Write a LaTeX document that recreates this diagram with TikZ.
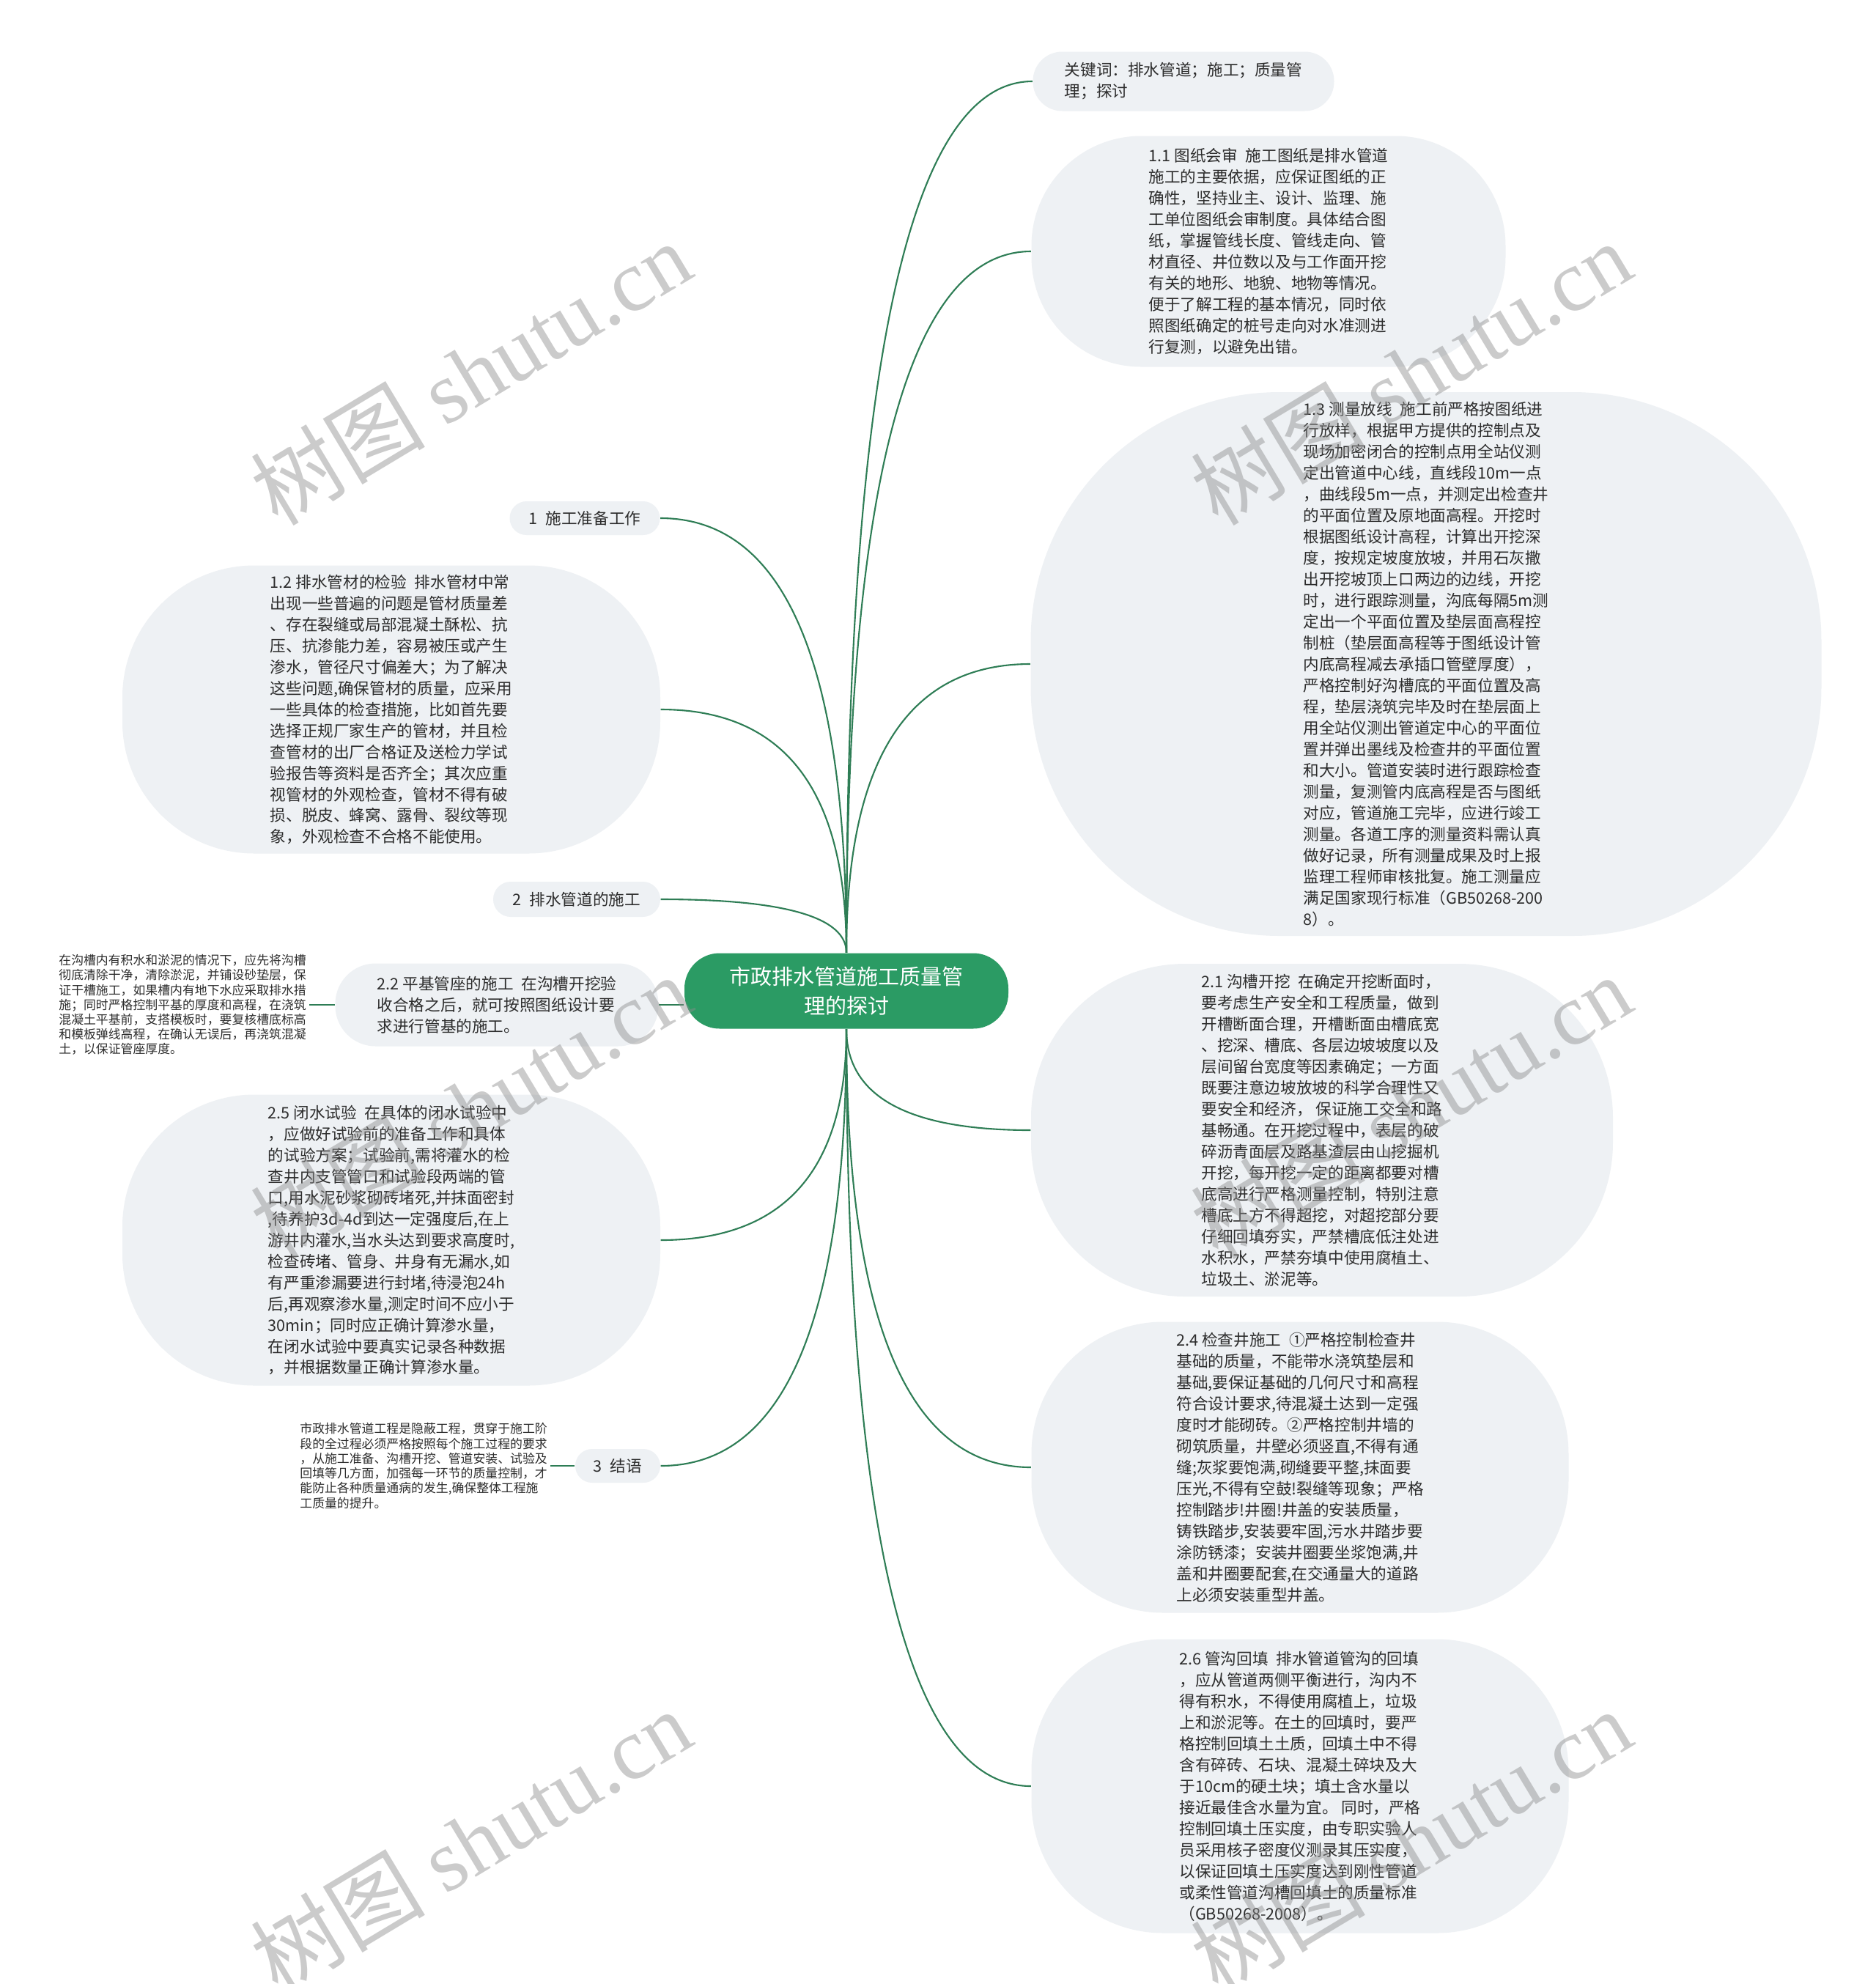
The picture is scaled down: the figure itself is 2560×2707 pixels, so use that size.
\documentclass[tikz,border=0pt]{standalone}
\usepackage{fontspec}
\setmainfont{Noto Sans CJK SC}
\newfontfamily\wmserif{Liberation Serif}
\usetikzlibrary{calc}

\definecolor{linkgreen}{RGB}{46,125,85}
\definecolor{topicgreen}{RGB}{43,155,100}
\definecolor{bubblegray}{RGB}{238,241,244}
\definecolor{textgray}{RGB}{45,45,45}

\newcommand{\gap}{\hspace{0.5em}}

\begin{document}
\begin{tikzpicture}[x=0.1mm,y=-0.1mm,
    topic/.style={fill=topicgreen,text=white,align=center,inner sep=0pt,
      minimum width=44.2mm,minimum height=10.3mm,rounded corners=4.8mm,
      font=\fontsize{8.25}{11.4}\selectfont},
    bubble/.style n args={3}{fill=bubblegray,text=textgray,align=left,
      inner sep=0pt,minimum width=#1,minimum height=#2,rounded corners=#3,
      font=\fontsize{6.15}{8.25}\selectfont},
    detail/.style={text=textgray,align=left,inner sep=1pt,
      font=\fontsize{4.8}{5.75}\selectfont},
    link/.style={draw=linkgreen,line width=0.6pt},
    mmcurve/.style={to path={.. controls
      ($(\tikztostart)!0.667!(\tikztostart|-\tikztotarget)$) and
      ($(\tikztotarget)!0.667!(\tikztostart|-\tikztotarget)$) .. (\tikztotarget)}},
    wmark/.style={rotate=31,text=black!45,opacity=0.45,inner sep=0pt,
      font=\fontsize{34}{34}\selectfont}]

  % page
  \useasboundingbox (0,0) rectangle (2560,2707);
  \fill[white] (0,0) rectangle (2560,2707);

  % central topic
  \node[topic] (root) at (1155,1352) {市政排水管道施工质量管\\理的探讨};

  % right side
  \node[bubble={41.1mm}{8.1mm}{4mm}] (kw) at (1615,111)
    {关键词：排水管道；施工；质量管\\理；探讨};
  \node[bubble={64.7mm}{31.5mm}{15mm}] (n11) at (1731,343)
    {1.1 图纸会审\gap 施工图纸是排水管道\\
     施工的主要依据，应保证图纸的正\\
     确性，坚持业主、设计、监理、施\\
     工单位图纸会审制度。具体结合图\\
     纸，掌握管线长度、管线走向、管\\
     材直径、井位数以及与工作面开挖\\
     有关的地形、地貌、地物等情况。\\
     便于了解工程的基本情况，同时依\\
     照图纸确定的桩号走向对水准测进\\
     行复测，以避免出错。};
  \node[bubble={107.9mm}{74.2mm}{34mm}] (n13) at (1946,906)
    {1.3 测量放线\gap 施工前严格按图纸进\\
     行放样，根据甲方提供的控制点及\\
     现场加密闭合的控制点用全站仪测\\
     定出管道中心线，直线段10m一点\\
     ，曲线段5m一点，并测定出检查井\\
     的平面位置及原地面高程。开挖时\\
     根据图纸设计高程，计算出开挖深\\
     度，按规定坡度放坡，并用石灰撒\\
     出开挖坡顶上口两边的边线，开挖\\
     时，进行跟踪测量，沟底每隔5m测\\
     定出一个平面位置及垫层面高程控\\
     制桩（垫层面高程等于图纸设计管\\
     内底高程减去承插口管壁厚度），\\
     严格控制好沟槽底的平面位置及高\\
     程，垫层浇筑完毕及时在垫层面上\\
     用全站仪测出管道定中心的平面位\\
     置并弹出墨线及检查井的平面位置\\
     和大小。管道安装时进行跟踪检查\\
     测量，复测管内底高程是否与图纸\\
     对应，管道施工完毕，应进行竣工\\
     测量。各道工序的测量资料需认真\\
     做好记录，所有测量成果及时上报\\
     监理工程师审核批复。施工测量应\\
     满足国家现行标准（GB50268-200\\
     8）。};
  \node[bubble={79.4mm}{45.4mm}{21mm}] (n21) at (1804,1542)
    {2.1 沟槽开挖\gap 在确定开挖断面时，\\
     要考虑生产安全和工程质量，做到\\
     开槽断面合理，开槽断面由槽底宽\\
     、挖深、槽底、各层边坡坡度以及\\
     层间留台宽度等因素确定；一方面\\
     既要注意边坡放坡的科学合理性又\\
     要安全和经济， 保证施工交全和路\\
     基畅通。在开挖过程中，表层的破\\
     碎沥青面层及路基渣层由山挖掘机\\
     开挖，每开挖一定的距离都要对槽\\
     底高进行严格测量控制，特别注意\\
     槽底上方不得超挖，对超挖部分要\\
     仔细回填夯实，严禁槽底低注处进\\
     水积水，严禁夯填中使用腐植土、\\
     垃圾土、淤泥等。};
  \node[bubble={73.3mm}{39.7mm}{18mm}] (n24) at (1774,2002)
    {2.4 检查井施工\gap ①严格控制检查井\\
     基础的质量，不能带水浇筑垫层和\\
     基础,要保证基础的几何尺寸和高程\\
     符合设计要求,待混凝土达到一定强\\
     度时才能砌砖。②严格控制井墙的\\
     砌筑质量，井壁必须竖直,不得有通\\
     缝;灰浆要饱满,砌缝要平整,抹面要\\
     压光,不得有空鼓!裂缝等现象；严格\\
     控制踏步!井圈!井盖的安装质量，\\
     铸铁踏步,安装要牢固,污水井踏步要\\
     涂防锈漆；安装井圈要坐浆饱满,井\\
     盖和井圈要配套,在交通量大的道路\\
     上必须安装重型井盖。};
  \node[bubble={73.3mm}{40.1mm}{18mm}] (n26) at (1774,2437)
    {2.6 管沟回填\gap 排水管道管沟的回填\\
     ，应从管道两侧平衡进行，沟内不\\
     得有积水，不得使用腐植上，垃圾\\
     上和淤泥等。在土的回填时，要严\\
     格控制回填土土质，回填土中不得\\
     含有碎砖、石块、混凝土碎块及大\\
     于10cm的硬土块；填土含水量以\\
     接近最佳含水量为宜。 同时，严格\\
     控制回填土压实度，由专职实验人\\
     员采用核子密度仪测录其压实度，\\
     以保证回填土压实度达到刚性管道\\
     或柔性管道沟槽回填土的质量标准\\
     （GB50268-2008）。};

  % left side
  \node[bubble={20.5mm}{4.6mm}{2.3mm}] (b1) at (798,707) {1\gap 施工准备工作};
  \node[bubble={73.4mm}{39.3mm}{18mm}] (n12) at (534,968)
    {1.2 排水管材的检验\gap 排水管材中常\\
     出现一些普遍的问题是管材质量差\\
     、存在裂缝或局部混凝土酥松、抗\\
     压、抗渗能力差，容易被压或产生\\
     渗水，管径尺寸偏差大；为了解决\\
     这些问题,确保管材的质量，应采用\\
     一些具体的检查措施，比如首先要\\
     选择正规厂家生产的管材，并且检\\
     查管材的出厂合格证及送检力学试\\
     验报告等资料是否齐全；其次应重\\
     视管材的外观检查，管材不得有破\\
     损、脱皮、蜂窝、露骨、裂纹等现\\
     象，外观检查不合格不能使用。};
  \node[bubble={22.8mm}{4.8mm}{2.4mm}] (b2) at (787,1227) {2\gap 排水管道的施工};
  \node[bubble={44.1mm}{11.3mm}{5.5mm}] (n22) at (678,1371)
    {2.2 平基管座的施工\gap 在沟槽开挖验\\
     收合格之后，就可按照图纸设计要\\
     求进行管基的施工。};
  \node[detail,anchor=east] (d22) at (422,1371)
    {在沟槽内有积水和淤泥的情况下，应先将沟槽\\
     彻底清除干净，清除淤泥，并铺设砂垫层，保\\
     证干槽施工，如果槽内有地下水应采取排水措\\
     施；同时严格控制平基的厚度和高程，在浇筑\\
     混凝土平基前，支搭模板时，要复核槽底标高\\
     和模板弹线高程，在确认无误后，再浇筑混凝\\
     土，以保证管座厚度。};
  \node[bubble={73.4mm}{39.7mm}{18mm}] (n25) at (534,1692)
    {2.5 闭水试验\gap 在具体的闭水试验中\\
     ，应做好试验前的准备工作和具体\\
     的试验方案；试验前,需将灌水的检\\
     查井内支管管口和试验段两端的管\\
     口,用水泥砂浆砌砖堵死,并抹面密封\\
     ,待养护3d-4d到达一定强度后,在上\\
     游井内灌水,当水头达到要求高度时,\\
     检查砖堵、管身、井身有无漏水,如\\
     有严重渗漏要进行封堵,待浸泡24h\\
     后,再观察渗水量,测定时间不应小于\\
     30min；同时应正确计算渗水量，\\
     在闭水试验中要真实记录各种数据\\
     ，并根据数量正确计算渗水量。};
  \node[bubble={11.6mm}{4.6mm}{2.3mm}] (b3) at (843,2000) {3\gap 结语};
  \node[detail,anchor=east] (d3) at (751,2000)
    {市政排水管道工程是隐蔽工程，贯穿于施工阶\\
     段的全过程必须严格按照每个施工过程的要求\\
     ，从施工准备、沟槽开挖、管道安装、试验及\\
     回填等几方面，加强每一环节的质量控制，才\\
     能防止各种质量通病的发生,确保整体工程施\\
     工质量的提升。};

  % links to the right
  \draw[link] (root.north) to[mmcurve] (kw.west);
  \draw[link] (root.north) to[mmcurve] (n11.west);
  \draw[link] (root.north) to[mmcurve] (n13.west);
  \draw[link] (root.south) to[mmcurve] (n21.west);
  \draw[link] (root.south) to[mmcurve] (n24.west);
  \draw[link] (root.south) to[mmcurve] (n26.west);

  % links to the left
  \draw[link] (root.north) to[mmcurve] (b1.east);
  \draw[link] (root.north) to[mmcurve] (n12.east);
  \draw[link] (root.north) to[mmcurve] (b2.east);
  \draw[link] (n22.east) -- (n22.east -| root.west);
  \draw[link] (root.south) to[mmcurve] (n25.east);
  \draw[link] (root.south) to[mmcurve] (b3.east);
  \draw[link] (d22.east) -- (n22.west);
  \draw[link] (d3.east) -- (b3.west);

  % watermarks
  \node[wmark] (wm1) at (642,509)  {树图 {\wmserif shutu.cn}};
  \node[wmark] (wm2) at (1925,509) {树图 {\wmserif shutu.cn}};
  \node[wmark] (wm3) at (642,1510) {树图 {\wmserif shutu.cn}};
  \node[wmark] (wm4) at (1925,1510) {树图 {\wmserif shutu.cn}};
  \node[wmark] (wm5) at (642,2512) {树图 {\wmserif shutu.cn}};
  \node[wmark] (wm6) at (1925,2512) {树图 {\wmserif shutu.cn}};
\end{tikzpicture}
\end{document}
